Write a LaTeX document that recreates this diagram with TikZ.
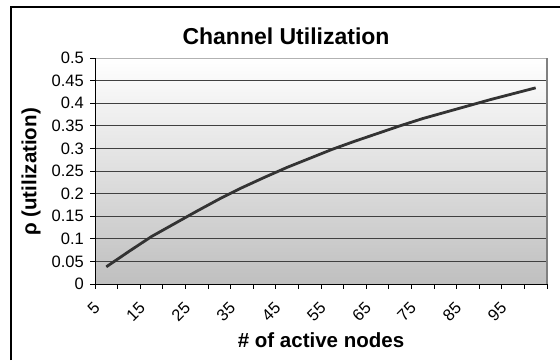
\documentclass[tikz,border=0pt]{standalone}
\usepackage{fontspec}
\setmainfont{Liberation Sans}
\usepackage{tikz}

\begin{document}
\begin{tikzpicture}[
  x=1pt, y=1pt,
  grid line/.style={black!75, line width=0.8},
  axis line/.style={black, line width=1},
  ytick/.style={anchor=east, inner sep=0pt, font=\fontsize{16.5}{18}\selectfont},
  xtick/.style={anchor=east, rotate=45, inner sep=0pt, font=\fontsize{16.5}{18}\selectfont},
  axis title/.style={font=\fontsize{20.5}{24}\selectfont\bfseries}]

    \useasboundingbox (0,0) rectangle (560,360);

    \draw[black, line width=1.5] (11,0) -- (11,353) -- (560,353);

    \shade[top color=white, bottom color=black!25] (95,76) rectangle (547,302);
    \foreach \i in {1,...,9}
        \draw[grid line] (95,{76+22.6*\i}) -- (547,{76+22.6*\i});
    \draw[black!30, line width=0.8] (95,302) -- (547,302);
    \draw[black!50, line width=1.6] (547,76) -- (547,302);

    \draw[axis line] (95,302) -- (95,76) -- (547,76);
    \foreach \lab [count=\i from 0] in {0,0.05,0.1,0.15,0.2,0.25,0.3,0.35,0.4,0.45,0.5} {
        \draw[axis line] (90,{76+22.6*\i}) -- (95,{76+22.6*\i});
        \node[ytick] (yt\i) at (84,{76+22.6*\i}) {\lab};
    }
    \foreach \k in {0,...,20}
        \draw[axis line] ({95+22.6*\k},76) -- ({95+22.6*\k},71);
    \foreach \n [count=\k from 0] in {5,15,...,95}
        \node[xtick] (xt\k) at ({97+45.2*\k},55) {\n};

    \draw[black!80, line width=2.8, line join=round]
        (106.3,{76+452*0.038})
        \foreach \k/\v in {1/0.072,2/0.105,3/0.133,4/0.161,5/0.188,6/0.213,7/0.236,8/0.258,9/0.278,
                           10/0.298,11/0.316,12/0.333,13/0.350,14/0.366,15/0.380,16/0.394,17/0.408,18/0.421,19/0.434}
        { -- ({95+22.6*(\k+0.5)},{76+452*\v}) };

    \node[font=\fontsize{23}{27}\selectfont\bfseries] (title) at (286,324) {Channel Utilization};
    \node[axis title, rotate=90] (ylabel) at (31,188) {ρ (utilization)};
    \node[axis title] (xlabel) at (321,20) {\# of active nodes};

\end{tikzpicture}
\end{document}
